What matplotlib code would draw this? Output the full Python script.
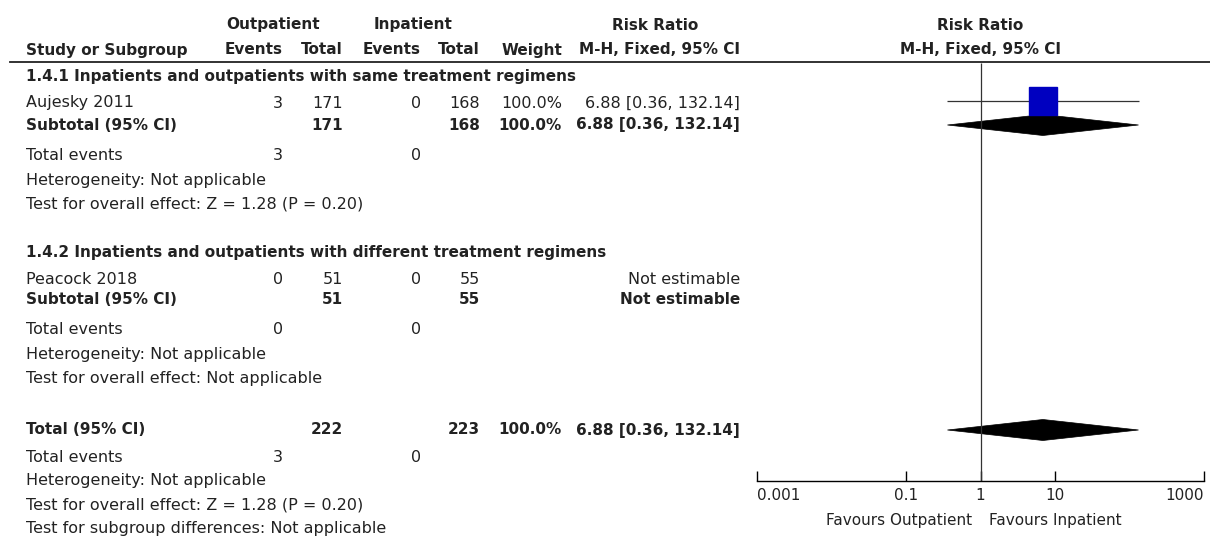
import numpy as np
import matplotlib
matplotlib.use('Agg')
import matplotlib.pyplot as plt
from matplotlib.patches import Polygon

plt.rcParams['font.family'] = ['DejaVu Sans']

# data
studies = ['Aujesky 2011', 'Peacock 2018']
out_events = [3, 0]
out_total = [171, 51]
in_events = [0, 0]
in_total = [168, 55]
weights = ['100.0%', '']
rr = [6.88, np.nan]
rr_lo = [0.36, np.nan]
rr_hi = [132.14, np.nan]
ci_text = ['6.88 [0.36, 132.14]', 'Not estimable']

groups = ['1.4.1 Inpatients and outpatients with same treatment regimens',
          '1.4.2 Inpatients and outpatients with different treatment regimens']
sub_out_total = [171, 51]
sub_in_total = [168, 55]
sub_weight = ['100.0%', '']
sub_rr = [6.88, np.nan]
sub_lo = [0.36, np.nan]
sub_hi = [132.14, np.nan]
sub_ci_text = ['6.88 [0.36, 132.14]', 'Not estimable']
sub_out_events = [3, 0]
sub_in_events = [0, 0]
sub_effect = ['Test for overall effect: Z = 1.28 (P = 0.20)',
              'Test for overall effect: Not applicable']

tot_out_total, tot_in_total = 222, 223
tot_weight = '100.0%'
tot_rr, tot_lo, tot_hi = 6.88, 0.36, 132.14
tot_ci_text = '6.88 [0.36, 132.14]'
tot_out_events, tot_in_events = 3, 0

xticks = [0.001, 0.1, 1, 10, 1000]
xtick_labels = ['0.001', '0.1', '1', '10', '1000']

W, H = 1210, 542
fig = plt.figure(figsize=(W / 100, H / 100), dpi=100)
ax = fig.add_axes([0, 0, 1, 1])
ax.set_xlim(0, W)
ax.set_ylim(H, 0)
ax.axis('off')

fs = 11.5
fsb = 11
tc = '#222222'

# column positions (right edges)
x_lab = 26
x_oe, x_ot, x_ie, x_it, x_w, x_ci = 283, 343, 421, 480, 562, 740


def row(y, label, oe='', ot='', ie='', it='', w='', ci='', bold=False):
    fw = 'bold' if bold else 'normal'
    f = fsb if bold else fs
    ax.text(x_lab, y, label, fontsize=f, color=tc, va='center', ha='left', fontweight=fw)
    for x, s in [(x_oe, oe), (x_ot, ot), (x_ie, ie), (x_it, it), (x_w, w), (x_ci, ci)]:
        ax.text(x, y, str(s), fontsize=f, color=tc, va='center', ha='right', fontweight=fw)


# header
hb = dict(fontsize=fsb, color=tc, fontweight='bold', va='center')
ax.text(273, 25, 'Outpatient', ha='center', **hb)
ax.text(413, 25, 'Inpatient', ha='center', **hb)
ax.text(655, 25, 'Risk Ratio', ha='center', **hb)
ax.text(980, 25, 'Risk Ratio', ha='center', **hb)
ax.text(x_lab, 50, 'Study or Subgroup', ha='left', **hb)
for x, s in [(x_oe, 'Events'), (x_ot, 'Total'), (x_ie, 'Events'), (x_it, 'Total'),
             (x_w, 'Weight'), (x_ci, 'M-H, Fixed, 95% CI')]:
    ax.text(x, 50, s, ha='right', **hb)
ax.text(980, 50, 'M-H, Fixed, 95% CI', ha='center', **hb)
ax.plot([10, W], [62, 62], color='#222222', lw=1.3)

# rows
group_y = [77, 252]
study_y = [103, 280]
sub_y = [125, 300]
for g in range(2):
    ax.text(x_lab, group_y[g], groups[g], fontsize=fsb, color=tc, fontweight='bold', va='center')
    row(study_y[g], studies[g], out_events[g], out_total[g], in_events[g], in_total[g],
        weights[g], ci_text[g])
    row(sub_y[g], 'Subtotal (95% CI)', '', sub_out_total[g], '', sub_in_total[g],
        sub_weight[g], sub_ci_text[g], bold=True)
    row(sub_y[g] + 30, 'Total events', sub_out_events[g], '', sub_in_events[g])
    ax.text(x_lab, sub_y[g] + 55, 'Heterogeneity: Not applicable', fontsize=fs, color=tc, va='center')
    ax.text(x_lab, sub_y[g] + 79, sub_effect[g], fontsize=fs, color=tc, va='center')

ty = 430
row(ty, 'Total (95% CI)', '', tot_out_total, '', tot_in_total, tot_weight, tot_ci_text, bold=True)
row(ty + 27, 'Total events', tot_out_events, '', tot_in_events)
ax.text(x_lab, ty + 51, 'Heterogeneity: Not applicable', fontsize=fs, color=tc, va='center')
ax.text(x_lab, ty + 75, 'Test for overall effect: Z = 1.28 (P = 0.20)', fontsize=fs, color=tc, va='center')
ax.text(x_lab, ty + 99, 'Test for subgroup differences: Not applicable', fontsize=fs, color=tc, va='center')

# forest plot
x0, x1 = 757, 1204
ax2 = fig.add_axes([x0 / W, 0, (x1 - x0) / W, 1])
ax2.set_xscale('log')
ax2.set_xlim(0.001, 1000)
ax2.set_ylim(H, 0)
ax2.patch.set_alpha(0)
for s in ['top', 'left', 'right']:
    ax2.spines[s].set_visible(False)
ax2.spines['bottom'].set_position(('data', 481))
ax2.spines['bottom'].set_linewidth(1.0)
ax2.set_yticks([])
ax2.set_xticks(xticks)
ax2.set_xticklabels(xtick_labels, fontsize=fs - 0.5, color=tc)
ax2.minorticks_off()
ax2.xaxis.set_minor_locator(matplotlib.ticker.NullLocator())
ax2.tick_params(axis='x', direction='in', length=7, width=1.0, pad=5)
tl = ax2.get_xticklabels()
tl[0].set_ha('left')
tl[-1].set_ha('right')

ax2.vlines(1, 63, 481, color='#333333', lw=0.9)

for i in range(2):
    if not np.isnan(rr[i]):
        ax2.hlines(study_y[i] - 2, rr_lo[i], rr_hi[i], color='#333333', lw=0.9)
        ax2.plot(rr[i], study_y[i] - 2, marker='s', ms=20, color='#0000c0', mec='#0000c0')


def diamond(y, est, lo, hi, h=10.5):
    ax2.add_patch(Polygon([(lo, y), (est, y - h), (hi, y), (est, y + h)],
                          closed=True, facecolor='black', edgecolor='black', lw=0.5))


for i in range(2):
    if not np.isnan(sub_rr[i]):
        diamond(sub_y[i], sub_rr[i], sub_lo[i], sub_hi[i])
diamond(ty, tot_rr, tot_lo, tot_hi)

ax2.text(0.78, 520, 'Favours Outpatient', fontsize=fs - 0.5, color=tc, ha='right', va='center')
ax2.text(1.3, 520, 'Favours Inpatient', fontsize=fs - 0.5, color=tc, ha='left', va='center')

fig.savefig('out.png', dpi=100)
